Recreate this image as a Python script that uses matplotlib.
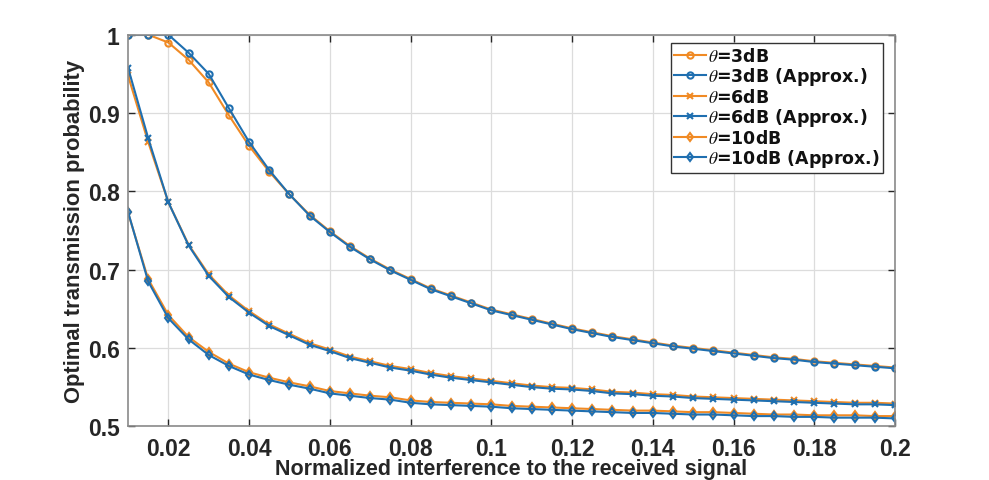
import numpy as np
import matplotlib
matplotlib.use("Agg")
import matplotlib.pyplot as plt

plt.rcParams['font.family'] = ['Liberation Sans', 'DejaVu Sans']
plt.rcParams['mathtext.fontset'] = 'stix'

x = np.round(np.arange(0.01, 0.2001, 0.005), 3)

p3_exact = [1.0, 1.0, 0.990, 0.968, 0.939, 0.897, 0.858, 0.825, 0.796, 0.770,
            0.749, 0.730, 0.714, 0.700, 0.688, 0.676, 0.667, 0.658, 0.649, 0.643,
            0.637, 0.631, 0.625, 0.620, 0.615, 0.611, 0.607, 0.603, 0.600, 0.597,
            0.594, 0.591, 0.588, 0.586, 0.583, 0.581, 0.579, 0.577, 0.575]
p3_approx = [1.0, 1.0, 1.0, 0.977, 0.950, 0.906, 0.863, 0.827, 0.796, 0.769,
             0.748, 0.729, 0.713, 0.699, 0.687, 0.675, 0.666, 0.657, 0.648, 0.642,
             0.636, 0.630, 0.624, 0.619, 0.614, 0.610, 0.606, 0.602, 0.599, 0.596,
             0.593, 0.590, 0.587, 0.585, 0.582, 0.580, 0.578, 0.576, 0.574]
p6_exact = [0.948, 0.863, 0.786, 0.732, 0.694, 0.667, 0.647, 0.630, 0.618, 0.606,
            0.598, 0.589, 0.583, 0.577, 0.573, 0.568, 0.564, 0.561, 0.558, 0.555,
            0.552, 0.550, 0.549, 0.547, 0.544, 0.543, 0.541, 0.540, 0.538, 0.537,
            0.536, 0.535, 0.534, 0.533, 0.532, 0.531, 0.530, 0.530, 0.529]
p6_approx = [0.958, 0.868, 0.786, 0.731, 0.692, 0.665, 0.645, 0.628, 0.616, 0.604,
             0.596, 0.587, 0.581, 0.575, 0.571, 0.566, 0.562, 0.559, 0.556, 0.553,
             0.550, 0.548, 0.547, 0.545, 0.542, 0.541, 0.539, 0.538, 0.536, 0.535,
             0.534, 0.533, 0.532, 0.531, 0.530, 0.529, 0.528, 0.528, 0.527]
p10_exact = [0.773, 0.688, 0.642, 0.614, 0.595, 0.580, 0.569, 0.562, 0.556, 0.551,
             0.545, 0.542, 0.539, 0.537, 0.533, 0.531, 0.530, 0.529, 0.528, 0.526,
             0.525, 0.524, 0.523, 0.522, 0.521, 0.520, 0.520, 0.519, 0.518, 0.518,
             0.517, 0.516, 0.515, 0.515, 0.514, 0.514, 0.514, 0.513, 0.513]
p10_approx = [0.774, 0.685, 0.638, 0.611, 0.591, 0.577, 0.566, 0.559, 0.553, 0.548,
              0.542, 0.539, 0.536, 0.534, 0.530, 0.528, 0.527, 0.526, 0.525, 0.523,
              0.522, 0.521, 0.520, 0.519, 0.518, 0.517, 0.517, 0.516, 0.515, 0.515,
              0.514, 0.513, 0.513, 0.512, 0.512, 0.511, 0.511, 0.511, 0.510]

series = [
    (p3_exact, 'o', 'orange', r'$\theta$=3dB'),
    (p3_approx, 'o', 'blue', r'$\theta$=3dB (Approx.)'),
    (p6_exact, 'x', 'orange', r'$\theta$=6dB'),
    (p6_approx, 'x', 'blue', r'$\theta$=6dB (Approx.)'),
    (p10_exact, 'd', 'orange', r'$\theta$=10dB'),
    (p10_approx, 'd', 'blue', r'$\theta$=10dB (Approx.)'),
]
colors = {'orange': '#F08A24', 'blue': '#1F6FB0'}

xticks = [0.02, 0.04, 0.06, 0.08, 0.1, 0.12, 0.14, 0.16, 0.18, 0.2]
xticklabels = ['0.02', '0.04', '0.06', '0.08', '0.1', '0.12', '0.14', '0.16', '0.18', '0.2']
yticks = [0.5, 0.6, 0.7, 0.8, 0.9, 1.0]
yticklabels = ['0.5', '0.6', '0.7', '0.8', '0.9', '1']

fig = plt.figure(figsize=(9.89, 4.81), dpi=100)
ax = fig.add_axes([0.1294, 0.1117, 0.9050 - 0.1294, 0.9258 - 0.1117])

for vals, m, c, lab in series:
    ax.plot(x, vals, marker=m, color=colors[c], lw=1.5, ms=4.5, mew=1.5,
            mfc='none', label=lab)

ax.set_xlim(0.01, 0.2)
ax.set_ylim(0.5, 1.0)
ax.set_xticks(xticks)
ax.set_xticklabels(xticklabels)
ax.set_yticks(yticks)
ax.set_yticklabels(yticklabels)
ax.grid(True, color='#DCDCDC', lw=0.9)
ax.set_axisbelow(True)
for s in ax.spines.values():
    s.set_color('#8A8A8A')
    s.set_linewidth(1.2)
ax.tick_params(direction='in', length=5, width=1.0, color='#262626',
               top=True, right=True, labelsize=16.5, labelcolor='#262626')
ax.tick_params(axis='x', pad=7.5)
ax.tick_params(axis='y', pad=6)
for t in ax.get_xticklabels() + ax.get_yticklabels():
    t.set_fontweight('bold')

ax.set_xlabel('Normalized interference to the received signal', fontsize=15.5,
              fontweight='bold', color='#262626', labelpad=-1.5)
ax.set_ylabel('Optimal transmission probability', fontsize=15.8,
              fontweight='bold', color='#262626', labelpad=2)

leg = ax.legend(loc='upper right', bbox_to_anchor=(0.989, 0.987),
                prop={'family': ['DejaVu Sans'], 'weight': 'bold', 'size': 12.5},
                frameon=True, fancybox=False,
                edgecolor='#333333', framealpha=1, handlelength=1.85,
                handletextpad=0.1, labelspacing=0.03, borderpad=0.2,
                borderaxespad=0.2)
leg.get_frame().set_linewidth(1.0)
for t in leg.get_texts():
    t.set_color('#111111')

fig.savefig('out.png', dpi=100)
